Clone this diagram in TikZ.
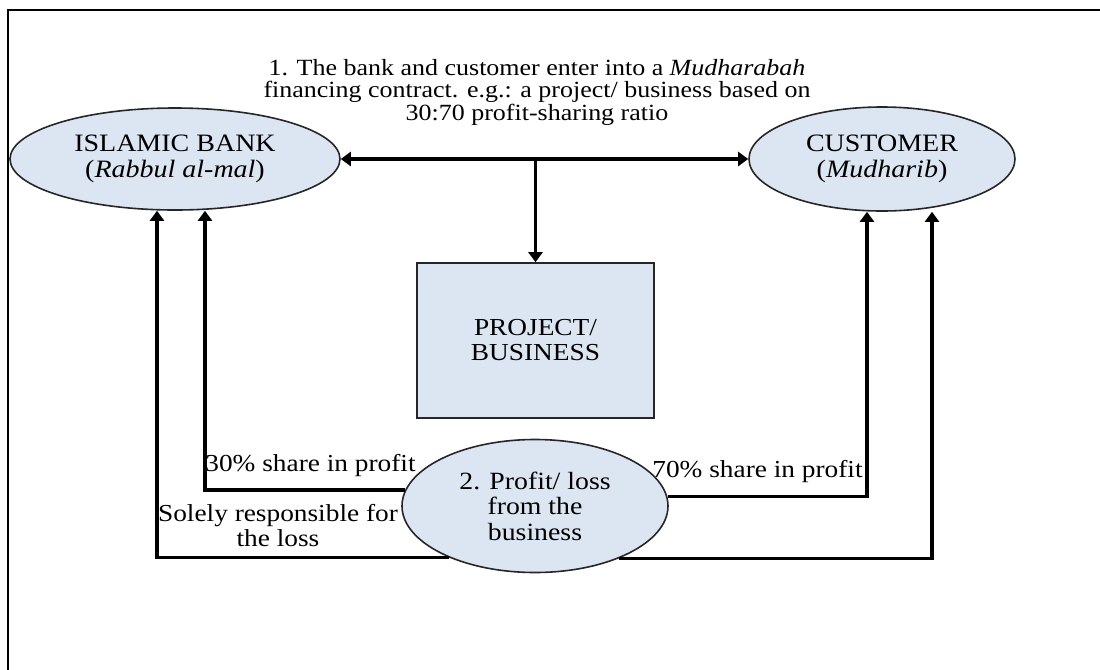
\documentclass[tikz,border=0pt]{standalone}
\usepackage{fontspec}
\setmainfont[FakeStretch=1.12]{Liberation Serif}
\usetikzlibrary{arrows.meta, shapes.geometric}
\definecolor{paleblue}{HTML}{DCE6F2}

\begin{document}
\begin{tikzpicture}[x=0.5pt, y=0.5pt, >={Triangle[length=5pt, width=7pt]},
  party/.style={ellipse, draw=black!85, line width=0.8pt, fill=paleblue, align=center, inner sep=0pt},
  flow/.style={line width=1.7pt},
  note/.style={inner sep=0pt, align=center, font=\fontsize{12.2}{12.5}\selectfont}]
\useasboundingbox (0,0) rectangle (1100,-670);
\draw[line width=1pt] (8,-670) -- (8,-10) -- (1100,-10);

\node  (deal)[note, font=\fontsize{11.6}{11.25}\selectfont] at (537,-92) {1. The bank and customer enter into a \textit{Mudharabah}\\financing contract. e.g.: a project/ business based on\\30:70 profit-sharing ratio};
\node  (bank)[party, minimum width=165pt, minimum height=51pt, font=\fontsize{12.5}{13}\selectfont] at (175,-159) {ISLAMIC BANK\\(\textit{Rabbul al-mal})};
\node  (cust)[party, minimum width=133pt, minimum height=52pt, font=\fontsize{12.5}{13}\selectfont] at (882,-159) {CUSTOMER\\(\textit{Mudharib})};
\node  (biz)[draw=black!85, line width=0.8pt, fill=paleblue, minimum width=118.5pt, minimum height=77.5pt, align=center, font=\fontsize{12.2}{12.5}\selectfont] at (535.5,-340.5) {PROJECT/\\BUSINESS};
\node  (gain)[party, minimum width=133pt, minimum height=66.5pt, font=\fontsize{12.4}{12.75}\selectfont] at (535,-506) {2. Profit/ loss\\from the\\business};

\draw[flow, <->] (bank.east) -- (cust.west);
\draw[flow, ->] (biz.north |- bank.east) -- (biz.north);

% profit and loss going back to each side
\draw[flow, ->] (gain.173) -| ([xshift=15pt]bank.south);
\draw[flow, ->] (gain.211) -| ([xshift=-9pt]bank.south);
\draw[flow, ->] (gain.4) -| ([xshift=-7.5pt]cust.south);
\draw[flow, ->] (gain.-32) -| ([xshift=25pt]cust.south);

\node  (share30)[note, anchor=base west] at (205,-471) {30\% share in profit};
\node  (share70)[note, anchor=base west] at (652,-477) {70\% share in profit};
\node  (loss)[note] at (278,-526) {Solely responsible for\\the loss};
\end{tikzpicture}
\end{document}
